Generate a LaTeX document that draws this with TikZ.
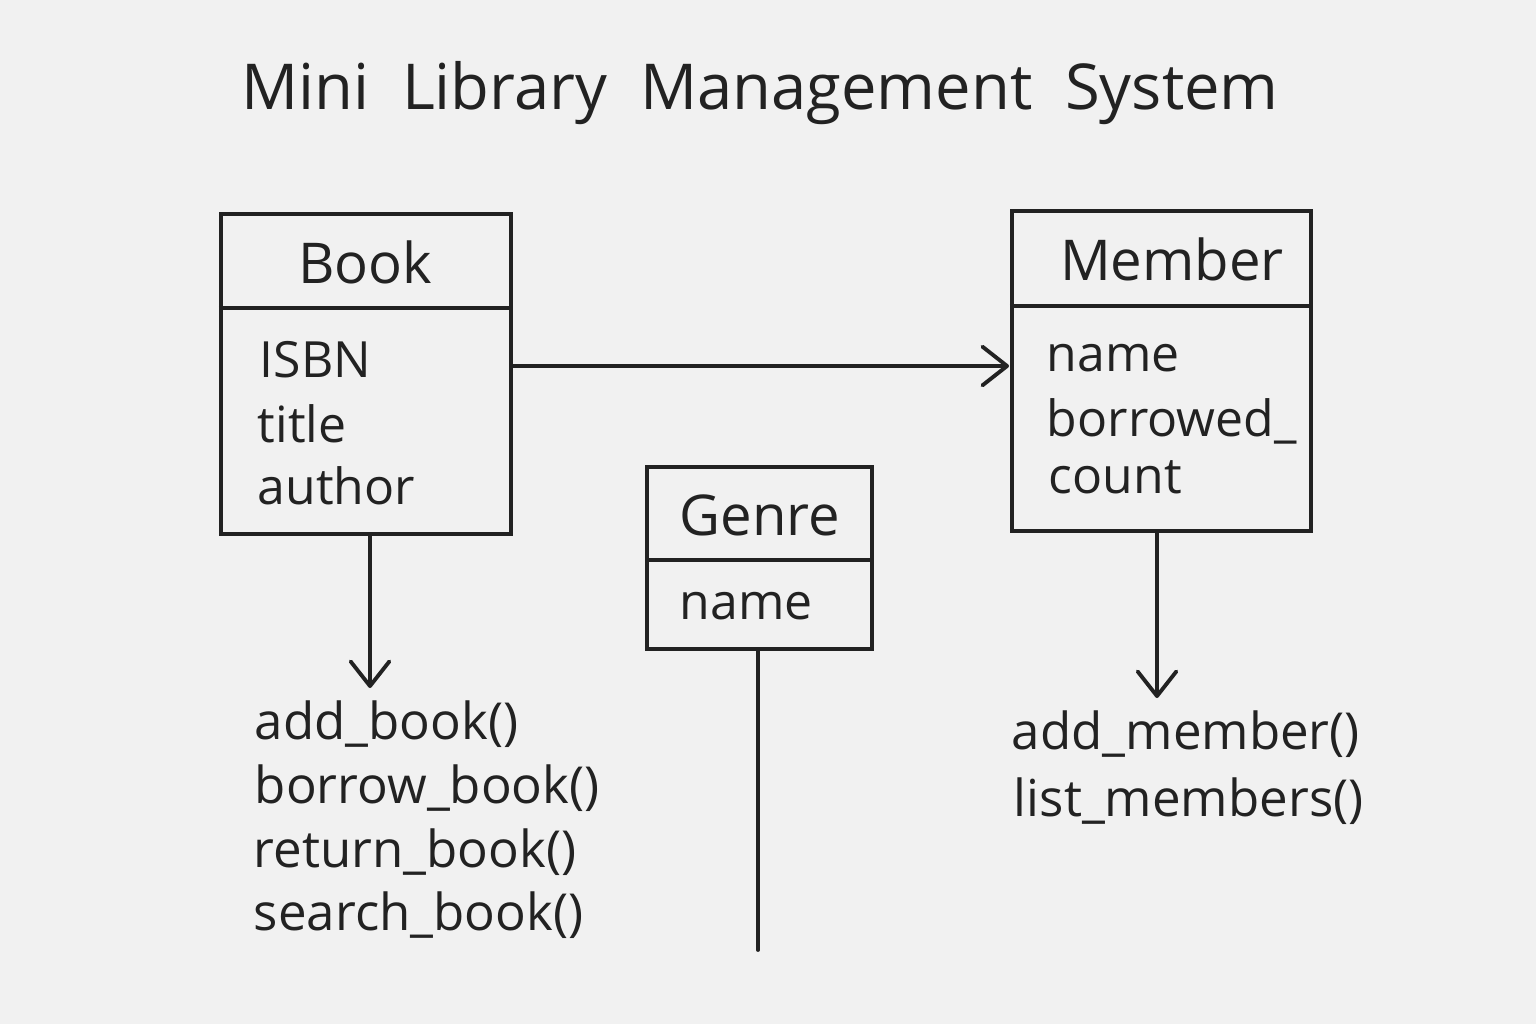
\documentclass[tikz,border=0pt]{standalone}
\usepackage{fontspec}
\setmainfont{Open Sans}
\usetikzlibrary{arrows.meta}
\definecolor{ink}{HTML}{222222}
\definecolor{paper}{HTML}{F1F1F1}
\begin{document}
\begin{tikzpicture}[x=0.01cm,y=-0.01cm,
  line width=1.1pt, draw=ink,
  box/.style={draw=ink, line width=1.1pt, inner sep=0pt},
  hdr/.style={text=ink, font=\fontsize{16}{20}\selectfont, anchor=base},
  attr/.style={text=ink, font=\fontsize{14.2}{18}\selectfont, anchor=base west, inner sep=0pt},
  meth/.style={text=ink, font=\fontsize{14.5}{18}\selectfont, anchor=base west, inner sep=0pt},
  arr/.style={-{Straight Barb[length=7pt,width=11pt,round]}, line width=1.1pt, draw=ink, line cap=round}]
\fill[paper] (0,0) rectangle (1536,1024);
\useasboundingbox (0,0) rectangle (1536,1024);

\node[text=ink, font=\fontsize{18}{22}\selectfont, anchor=base] (title) at (760,110) {Mini\ \ Library\ \ Management\ \ System};

% Book
\node[box, minimum width=2.9cm, minimum height=3.2cm] (book) at (366,374) {};
\draw (book.west |- 0,308) -- (book.east |- 0,308);
\node[hdr] (bookh) at (365,283) {Book};
\node[attr] (isbn) at (258,377) {ISBN};
\node[attr] (btitle) at (256,442) {title};
\node[attr] (bauthor) at (256,504) {author};

% Member
\node[box, minimum width=2.99cm, minimum height=3.2cm] (member) at (1161.5,371) {};
\draw (member.west |- 0,306) -- (member.east |- 0,306);
\node[hdr] (memberh) at (1172,280) {Member};
\node[attr] (mname) at (1045,371) {name};
\node[attr] (mborrowed) at (1045,436) {borrowed\_};
\node[attr] (mcount) at (1047,493) {count};

% Genre
\node[box, minimum width=2.25cm, minimum height=1.82cm] (genre) at (759.5,558) {};
\draw (genre.west |- 0,560) -- (genre.east |- 0,560);
\node[hdr] (genreh) at (760,535) {Genre};
\node[attr] (gname) at (678,619) {name};

% connectors
\coordinate (m1) at (1009,366);
\draw[arr] (book.east |- m1) -- (m1);

\coordinate (bm) at (370,688);
\draw[arr] (book.south -| bm) -- (bm);

\coordinate (mm) at (1157,698);
\draw[arr] (member.south -| mm) -- (mm);

\coordinate (ge) at (758,950);
\draw[line cap=round] (genre.south -| ge) -- (ge);

% methods
\node[meth] (m1t) at (253,739) {add\_book()};
\node[meth] (m2t) at (253,803) {borrow\_book()};
\node[meth] (m3t) at (252,867) {return\_book()};
\node[meth] (m4t) at (252,930) {search\_book()};

\node[meth] (m5t) at (1010,749) {add\_member()};
\node[meth] (m6t) at (1012,816) {list\_members()};
\end{tikzpicture}
\end{document}
